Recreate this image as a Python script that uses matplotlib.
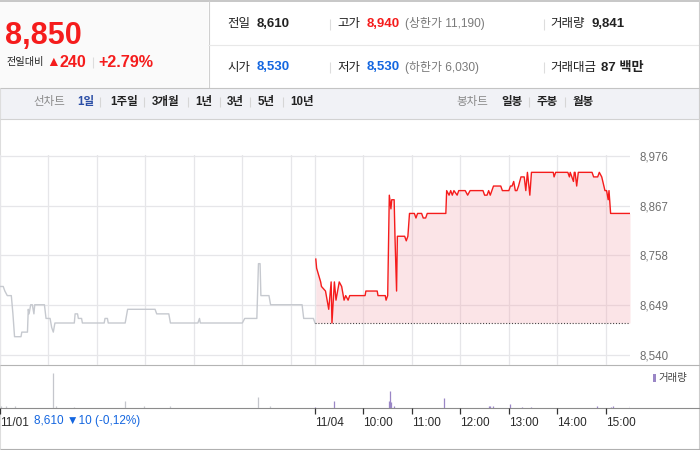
import matplotlib
matplotlib.use("Agg")
import matplotlib.pyplot as plt
from matplotlib.patches import Rectangle

plt.rcParams['font.family'] = ['Liberation Sans', 'Noto Sans CJK KR', 'DejaVu Sans']

# ================= DATA ================= #
PREV_CLOSE = 8610

# 11/01 (previous session, grey line)
PREV_TIMES = ["09:00", "09:04", "09:06", "09:09", "09:14", "09:16", "09:18", "09:26", "09:27",
              "09:34", "09:35", "09:36", "09:38", "09:40", "09:42", "09:43", "09:55", "09:57",
              "10:02", "10:04", "10:06", "10:08", "10:32", "10:33", "10:36", "10:37", "10:41",
              "10:42", "11:09", "11:10", "11:13", "11:14", "11:35", "11:38", "12:12", "12:14",
              "12:29", "12:31", "13:05", "13:07", "13:08", "14:00", "14:03", "14:18", "14:20",
              "14:22", "14:23", "14:33", "14:35", "15:14", "15:16", "15:28", "15:30"]
PREV_PRICES = [8690, 8690, 8680, 8670, 8670, 8630, 8580, 8580, 8590,
               8590, 8640, 8630, 8650, 8650, 8630, 8650, 8650, 8620,
               8620, 8600, 8590, 8610, 8610, 8630, 8630, 8620, 8620,
               8610, 8610, 8620, 8620, 8610, 8610, 8640, 8640, 8630,
               8630, 8610, 8610, 8620, 8610, 8610, 8620, 8620, 8740,
               8740, 8670, 8670, 8650, 8650, 8620, 8620, 8610]

# 11/04 (today, red line)
TODAY_TIMES = ["09:01", "09:02", "09:07", "09:08", "09:13", "09:17", "09:20", "09:21", "09:24",
               "09:26", "09:30", "09:33", "09:36", "09:38", "09:41", "09:43", "10:02", "10:03",
               "10:17", "10:18", "10:27", "10:28", "10:30", "10:32", "10:34", "10:35", "10:38",
               "10:39", "10:41", "10:42", "10:51", "10:53", "10:55", "10:57", "11:03", "11:05",
               "11:07", "11:12", "11:14", "11:17", "11:19", "11:42", "11:43", "11:46", "11:48",
               "11:50", "11:52", "11:56", "11:58", "12:06", "12:09", "12:12", "12:28", "12:30",
               "12:33", "12:35", "12:37", "12:41", "12:50", "12:52", "13:00", "13:02", "13:04",
               "13:06", "13:08", "13:10", "13:12", "13:15", "13:19", "13:21", "13:23", "13:26",
               "13:28", "13:55", "13:56", "13:58", "14:13", "14:15", "14:16", "14:20", "14:21",
               "14:22", "14:24", "14:26", "14:43", "14:45", "14:50", "14:52", "14:55", "14:59",
               "15:01", "15:03", "15:04", "15:06", "15:30"]
TODAY_PRICES = [8750, 8730, 8700, 8690, 8680, 8640, 8700, 8610, 8700,
                8660, 8700, 8690, 8660, 8670, 8660, 8670, 8670, 8680,
                8680, 8670, 8670, 8660, 8670, 8890, 8860, 8880, 8880,
                8800, 8680, 8800, 8800, 8790, 8800, 8850, 8850, 8840,
                8850, 8850, 8840, 8840, 8850, 8850, 8900, 8890, 8900,
                8890, 8900, 8890, 8900, 8900, 8890, 8900, 8900, 8890,
                8890, 8900, 8890, 8910, 8910, 8900, 8900, 8910, 8910,
                8920, 8900, 8900, 8910, 8930, 8930, 8900, 8940, 8890,
                8940, 8940, 8930, 8940, 8940, 8930, 8940, 8920, 8940,
                8940, 8910, 8940, 8940, 8930, 8930, 8940, 8930, 8900,
                8900, 8880, 8900, 8850, 8850]

PREV_VOL_TIMES = ["09:01", "09:08", "09:19", "10:06", "10:09", "10:32", "11:35", "11:58",
                  "12:31", "14:20", "14:34"]
PREV_VOLS = [260, 260, 260, 4550, 260, 130, 910, 200, 260, 1430, 260]

TODAY_VOL_TIMES = ["09:00", "09:24", "10:32", "10:33", "10:34", "10:38", "11:40", "12:35",
                   "12:37", "12:40", "13:01", "13:16", "13:28", "14:49", "15:06", "15:09", "15:30"]
TODAY_VOLS = [130, 910, 910, 2170, 780, 200, 1300, 200, 260, 260, 520, 130, 130, 260, 130, 260, 260]

PRICE_TICKS = [8540, 8649, 8758, 8867, 8976]
DAY_LABELS = ["11/01", "11/04"]
HOUR_LABELS = ["10:00", "11:00", "12:00", "13:00", "14:00", "15:00"]

# ================= THEME ================= #
RED = "#f51c1c"
BLUE = "#1466e0"
TEXT = "#222222"
GREY_TEXT = "#7a7a7a"
LINE_GREY = "#c6c9cf"
VOL_PURPLE = "#9a86c6"
GRID = "#e6e6e9"

W, H = 700, 450
SESSION = 390  # minutes 09:00 - 15:30


# ================= HELPERS ================= #
def to_x(hhmm, day):
    h, m = hhmm.split(":")
    return day * SESSION + (int(h) - 9) * 60 + int(m)


def px_axes(fig, x0, y0, x1, y1):
    return fig.add_axes([x0 / W, 1 - y1 / H, (x1 - x0) / W, (y1 - y0) / H])


fig = plt.figure(figsize=(7, 4.5), dpi=100, facecolor="white")

# ================= BACKGROUND / HEADER ================= #
bg = fig.add_axes([0, 0, 1, 1])
bg.set_xlim(0, W)
bg.set_ylim(H, 0)
bg.axis("off")


def txt(x, y, s, size=8, color=TEXT, weight="normal", ha="left"):
    bg.text(x, y, s, fontsize=size, color=color, weight=weight, ha=ha, va="center")


def hline(y, x0=0, x1=W, color="#cccccc", lw=0.8):
    bg.plot([x0, x1], [y, y], color=color, lw=lw, solid_capstyle="butt")


def vline(x, y0, y1, color="#cccccc", lw=0.8):
    bg.plot([x, x], [y0, y1], color=color, lw=lw, solid_capstyle="butt")


# left price panel
bg.add_patch(Rectangle((0, 1), 208, 87, facecolor="#fafafa", edgecolor="none"))
hline(0.8, color="#bdbdbd", lw=1.2)
vline(208.5, 1, 88, color="#d0d0d0")
hline(45, 208, W, color="#e8e8e8")
vline(699.3, 0, 449, color="#cccccc")
vline(0.4, 88, 449, color="#dddddd")

txt(5.5, 36, "8,850", size=22, color=RED, weight="bold")
txt(7, 62.5, "전일대비", size=7.3, color=TEXT)
txt(46.5, 62.5, "▲", size=10, color=RED)
txt(59.5, 62.5, "240", size=11.6, color=RED, weight="bold")
vline(92.5, 57, 68, color="#dddddd")
txt(98, 62.5, "+2.79%", size=11.6, color=RED, weight="bold")

rows = [
    (24, [("전일", 227, TEXT, "normal", 9), ("8,610", 257, TEXT, "bold", 9.5),
          ("고가", 337, TEXT, "normal", 9), ("8,940", 367, RED, "bold", 9.5),
          ("(상한가 11,190)", 405, GREY_TEXT, "normal", 8.6),
          ("거래량", 550, TEXT, "normal", 9), ("9,841", 591, TEXT, "bold", 9.5)]),
    (67.5, [("시가", 227, TEXT, "normal", 9), ("8,530", 257, BLUE, "bold", 9.5),
            ("저가", 337, TEXT, "normal", 9), ("8,530", 367, BLUE, "bold", 9.5),
            ("(하한가 6,030)", 405, GREY_TEXT, "normal", 8.6),
            ("거래대금", 550, TEXT, "normal", 9), ("87 백만", 601, TEXT, "bold", 9.5)]),
]
for y, items in rows:
    for s, x, c, w, size in items:
        txt(x, y, s, size=size, color=c, weight=w)
    for sx in (330, 544):
        vline(sx, y - 5.5, y + 5.5, color="#dddddd")

# tab bar
bg.add_patch(Rectangle((0, 88), W, 31, facecolor="#f1f2f6", edgecolor="none"))
hline(88.3, color="#c4c4c4")
hline(119, color="#d2d2d2")
txt(33, 102, "선차트", size=8.3, color="#8a8a8a")
txt(77, 102, "1일", size=8.3, color="#2b4ea6", weight="bold")
for s, x in [("1주일", 110), ("3개월", 152), ("1년", 195), ("3년", 227), ("5년", 258), ("10년", 290)]:
    txt(x, 102, s, size=8.3, weight="bold")
for sx in (100, 143.5, 188, 220, 250, 283):
    vline(sx, 97, 107, color="#d6d6d6")
txt(456, 102, "봉차트", size=8.3, color="#8a8a8a")
for s, x in [("일봉", 501), ("주봉", 537), ("월봉", 573)]:
    txt(x, 102, s, size=8.3, weight="bold")
for sx in (529, 565):
    vline(sx, 97, 107, color="#d6d6d6")

# chart frame lines
hline(365, color="#b4b4b4")
hline(408, color="#8c8c8c")
hline(449, color="#b0b0b0")

# bottom labels / legend
txt(34, 421, "8,610 ▼10 (-0,12%)", size=8.5, color=BLUE)
bg.add_patch(Rectangle((653, 374), 2.5, 8, facecolor=VOL_PURPLE, edgecolor="none"))
txt(658, 378, "거래량", size=7.5, color="#444444")

# ================= PRICE CHART ================= #
ax = px_axes(fig, 0, 155, 630, 365)
ax.set_facecolor("none")
ax.set_xlim(0, 2 * SESSION)
ax.set_ylim(8518, 8978)

grid_x = [h * 60 for h in range(7)] + [SESSION] + [SESSION + h * 60 for h in range(1, 7)]
ax.set_xticks(grid_x)
ax.set_yticks(PRICE_TICKS)
ax.set_yticklabels([f"{v:,}" for v in PRICE_TICKS])
ax.yaxis.tick_right()
ax.tick_params(axis="x", length=0, labelbottom=False)
ax.tick_params(axis="y", length=0, pad=6.5, labelsize=8.3, labelcolor="#6e6e6e")
ax.grid(True, color=GRID, lw=0.9)
ax.set_axisbelow(True)
for sp in ax.spines.values():
    sp.set_visible(False)

px = [to_x(t, 0) for t in PREV_TIMES]
ax.plot(px, PREV_PRICES, color=LINE_GREY, lw=1.0)

tx = [to_x(t, 1) for t in TODAY_TIMES]
ax.fill_between(tx, TODAY_PRICES, PREV_CLOSE, color="#f4a6b0", alpha=0.3, lw=0)
ax.plot([SESSION, 2 * SESSION], [PREV_CLOSE, PREV_CLOSE], color="#444444", lw=0.8,
        ls=(0, (1, 1.6)))
ax.plot(tx, TODAY_PRICES, color=RED, lw=1.0)

# ================= VOLUME ================= #
axv = px_axes(fig, 0, 365, 630, 408)
axv.set_facecolor("none")
axv.set_xlim(0, 2 * SESSION)
axv.set_ylim(0, 5590)
axv.vlines([to_x(t, 0) for t in PREV_VOL_TIMES], 0, PREV_VOLS, color="#c4c6cc", lw=0.9)
axv.vlines([to_x(t, 1) for t in TODAY_VOL_TIMES], 0, TODAY_VOLS, color=VOL_PURPLE, lw=0.9)
for sp in axv.spines.values():
    sp.set_visible(False)
axv.set_yticks([])
tick_pos = [0, SESSION] + [SESSION + h * 60 for h in range(1, 7)]
axv.set_xticks(tick_pos)
axv.set_xticklabels(DAY_LABELS + HOUR_LABELS, ha="left")
axv.tick_params(axis="x", length=4, width=0.9, color="#333333", pad=2.5,
                labelsize=8.5, labelcolor="#2a2a2a")

fig.savefig("out.png", dpi=100)
